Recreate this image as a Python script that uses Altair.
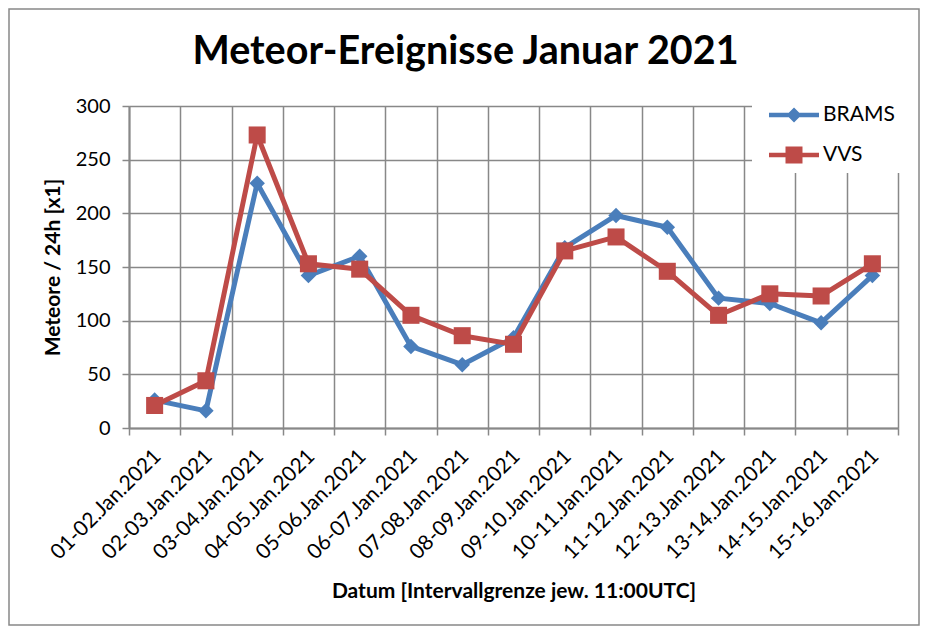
import altair as alt
import pandas as pd

categories = ["01-02.Jan.2021", "02-03.Jan.2021", "03-04.Jan.2021", "04-05.Jan.2021",
              "05-06.Jan.2021", "06-07.Jan.2021", "07-08.Jan.2021", "08-09.Jan.2021",
              "09-10.Jan.2021", "10-11.Jan.2021", "11-12.Jan.2021", "12-13.Jan.2021",
              "13-14.Jan.2021", "14-15.Jan.2021", "15-16.Jan.2021"]
brams = [26, 16, 228, 142, 160, 76, 59, 84, 168, 198, 187, 121, 116, 98, 142]
vvs = [21, 44, 273, 153, 148, 105, 86, 78, 165, 178, 146, 105, 125, 123, 153]
series_names = ["BRAMS", "VVS"]
series_colors = ["#4A7EBB", "#BE4B48"]
y_ticks = [0, 50, 100, 150, 200, 250, 300]

rows = []
for c, b, v in zip(categories, brams, vvs):
    rows.append({"Datum": c, "series": "BRAMS", "value": b})
    rows.append({"Datum": c, "series": "VVS", "value": v})
df = pd.DataFrame(rows)

FONT = "Lato"
GRID = "#888888"

x_enc = alt.X("Datum:N", sort=categories,
              scale=alt.Scale(type="band", paddingInner=0, paddingOuter=0),
              axis=alt.Axis(title="Datum [Intervallgrenze jew. 11:00UTC]",
                            titleFont=FONT, titleFontSize=21, titleFontWeight="bold",
                            titleColor="black", titleBaseline="alphabetic",
                            titleX=384.5, titleY=169,
                            labelFont=FONT, labelFontSize=21, labelColor="black",
                            labelAngle=-45, labelAlign="right", labelBaseline="top",
                            labelPadding=10, labelOffset=-5,
                            tickBand="extent", tickSize=7, tickColor=GRID, tickWidth=1.5,
                            domainColor=GRID, domainWidth=2,
                            grid=True, gridColor=GRID, gridWidth=1.5))
y_enc = alt.Y("value:Q",
              scale=alt.Scale(domain=[0, 300], nice=False),
              axis=alt.Axis(title="Meteore / 24h [x1]", values=y_ticks,
                            titleFont=FONT, titleFontSize=21, titleFontWeight="bold",
                            titleColor="black", titleAngle=-90,
                            titleBaseline="alphabetic", titleX=-70, titleY=161,
                            labelFont=FONT, labelFontSize=20, labelColor="black",
                            labelPadding=12,
                            tickSize=7, tickColor=GRID, tickWidth=1.5,
                            domainColor=GRID, domainWidth=2,
                            grid=True, gridColor=GRID, gridWidth=1.5))

base = alt.Chart(df)

def series_layers(name, color, shape, size):
    d = base.transform_filter(alt.datum.series == name)
    line = d.mark_line(strokeWidth=5, color=color, strokeJoin="round",
                       strokeCap="round").encode(x=x_enc, y=y_enc)
    pts = d.mark_point(filled=True, shape=shape, size=size, color=color,
                       opacity=1).encode(x=x_enc, y=y_enc)
    return [line, pts]

layers = []
layers += series_layers("BRAMS", series_colors[0], "diamond", 240)
layers += series_layers("VVS", series_colors[1], "square", 290)

path_b = "M-0.4,-0.15H2.933V0.15H-0.4Z M1.267,-0.5L1.767,0L1.267,0.5L0.767,0Z"
path_v = "M-0.4,-0.15H2.933V0.15H-0.4Z M0.7,-0.567H1.833V0.567H0.7Z"

leg = alt.Legend(title=None, orient="none", legendX=623, legendY=-14,
                 fillColor="white", padding=8, symbolSize=900,
                 symbolStrokeWidth=0, symbolOpacity=1, rowPadding=15,
                 labelOffset=33, labelFont=FONT, labelFontSize=21,
                 labelColor="black", labelExpr="datum.label + '  '")
legend_layer = base.transform_filter("false").mark_point(filled=True, opacity=1).encode(
    x=x_enc, y=y_enc,
    color=alt.Color("series:N", scale=alt.Scale(domain=series_names, range=series_colors),
                    legend=leg),
    shape=alt.Shape("series:N", scale=alt.Scale(domain=series_names, range=[path_b, path_v]),
                    legend=leg),
)

frame = alt.Chart(alt.Data(values=[{"f": 1}])).mark_rect(
    fill=None, stroke="#888888", strokeWidth=1.5
).encode(x=alt.value(-120), x2=alt.value(790), y=alt.value(-97), y2=alt.value(519))

chart = alt.layer(frame, *layers, legend_layer).properties(
    width=769, height=322,
    padding={"left": 121, "top": 98, "right": 22, "bottom": 198},
    autosize=alt.AutoSizeParams(type="none"),
    title=alt.TitleParams("Meteor-Ereignisse Januar 2021", font=FONT, fontSize=39.5,
                          fontWeight="bold", color="black", anchor="middle",
                          dx=-48, dy=95, baseline="alphabetic", offset=0),
).configure_view(stroke=GRID, strokeWidth=1.5).configure(background="white")

chart.save("out.html", embed_options={"renderer": "svg", "actions": False})
